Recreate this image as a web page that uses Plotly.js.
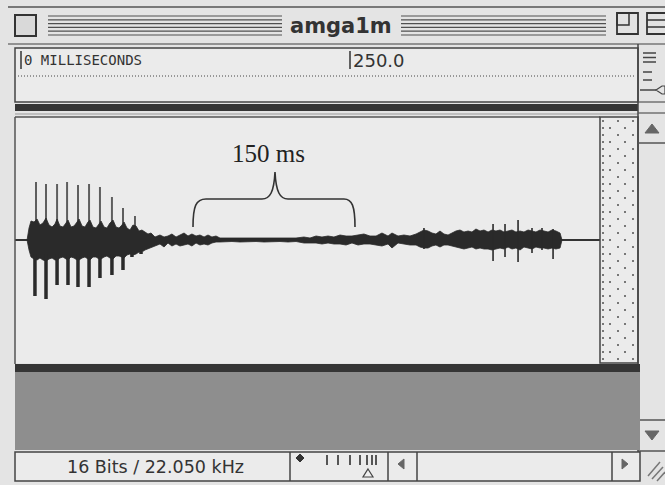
<!DOCTYPE html>
<html><head><meta charset="utf-8">
<script src="https://cdn.plot.ly/plotly-3.0.1.min.js"></script>
<style>html,body{margin:0;padding:0;background:#e4e4e4;}#chart{width:665px;height:485px;}</style>
</head><body><div id="chart"></div>
<script>
// ---------------- DATA (time in ms, amplitude in screen-scale units) ----------------
const fileName = 'amga1m';
const rulerTicks = [0, 250];
const rulerLabels = ['0 MILLISECONDS', '250.0'];
const formatLabel = '16 Bits / 22.050 kHz';
const braceLabel = '150 ms';

const bodyT = [4.6, 6.1, 7.6, 9.9, 12.2, 14.4, 16.7, 19.0, 21.3, 23.6, 25.8, 27.4, 29.6, 31.9, 34.2, 35.7, 38.0, 40.3, 42.6, 44.1, 46.4, 48.6, 50.9, 52.4, 54.7, 57.0, 59.3, 60.8, 63.1, 65.3, 67.6, 69.9, 72.2, 74.5, 76.7, 78.3, 80.5, 82.8, 85.1, 87.4, 89.7, 91.9, 94.2, 96.5, 98.8,
  101.8, 105.6, 108.7, 111.7, 114.7, 117.8, 120.8, 123.9, 126.9, 129.9, 133.0, 136.0, 139.1, 142.1, 145.1, 148.2, 151.2, 155.8, 160.3, 166.4, 172.5, 178.6, 184.7, 190.7, 196.8, 202.9, 209.0, 215.0, 219.6, 224.2, 228.7, 233.3, 237.8, 242.4, 247.0, 251.5, 256.1, 260.6, 265.2, 269.8, 274.3, 278.9, 281.9, 286.5, 291.0, 295.6, 300.2, 303.2, 306.2, 309.3, 312.3, 315.3, 318.4, 321.4, 324.5, 327.5, 330.5, 333.6, 336.6, 339.7, 342.7, 345.7, 348.8, 351.8, 354.9, 357.9, 360.9, 364.0, 367.0, 370.1, 373.1, 376.1, 379.2, 382.2, 385.3, 388.3, 391.3, 394.4, 397.4, 400.5, 403.5, 406.5, 409.6, 411.1];
const bodyUp = [0, 12, 19, 18, 21, 15, 17, 22, 15, 13, 16, 21, 14, 13, 17, 20, 13, 14, 18, 21, 14, 13, 18, 20, 13, 12, 16, 19, 13, 12, 17, 20, 13, 12, 15, 18, 12, 10, 15, 14, 9, 10, 8, 6, 7,
  3, 5, 3, 4, 6, 3, 5, 7, 4, 6, 4, 5, 3, 5, 3, 4, 2, 2, 1.5, 2, 1.5, 2, 1.5, 2, 1.5, 2, 2, 3, 2, 4, 3, 4, 3, 5, 4, 4, 5, 6, 4, 4, 7, 4, 7, 4, 5, 4, 6, 8, 10, 9, 7, 6, 9, 6, 5, 7, 9, 10, 8, 9, 8, 11, 9, 10, 8, 10, 9, 10, 8, 9, 10, 8, 9, 8, 10, 9, 8, 10, 9, 8, 10, 9, 7, 0];
const bodyDown = [0, -10, -17, -19, -20, -18, -20, -21, -19, -18, -20, -20, -18, -17, -19, -20, -17, -18, -20, -20, -18, -17, -19, -20, -17, -17, -19, -19, -17, -16, -18, -19, -16, -16, -17, -18, -15, -14, -15, -14, -12, -12, -10, -8, -7,
  -6, -4, -7, -3, -6, -4, -6, -5, -4, -6, -3, -5, -4, -5, -3, -2, -2, -2, -1.5, -2, -2, -1.5, -2, -2, -1.5, -2, -1.5, -3, -3, -3, -4, -3, -4, -4, -5, -3, -5, -4, -4, -5, -6, -4, -8, -3, -4, -5, -5, -7, -8, -8, -6, -5, -7, -5, -5, -6, -7, -8, -9, -8, -7, -9, -8, -9, -9, -10, -9, -8, -9, -7, -9, -8, -10, -7, -8, -9, -7, -8, -8, -9, -8, -9, -8, 0];

// thin upper spikes of the onset burst
const spikeT = [11.4, 19.0, 27.4, 35.0, 43.3, 51.7, 60.0, 69.1, 77.5, 86.6];
const spikeTop = [58, 56, 56, 58, 55, 56, 53, 43, 32, 24];
// heavy lower lobes of the onset burst
const lobeT = [10.6, 19.0, 27.4, 35.7, 43.3, 51.7, 60.0, 69.1, 77.5, 84.3, 91.2];
const lobeBottom = [-56, -59, -45, -45, -47, -47, -38, -35, -30, -17, -12];
// spikes in the later segment
const tailSpikeT = [306.2, 358.7, 367.8, 377.7, 388.3, 395.9, 404.3];
const tailSpikeTop = [12, 16, 16, 20, 12, 12, 11];
const tailSpikeBottom = [-9, -21, -17, -22, -13, -10, -19];

// ---------------- BUILD ----------------
const W = 665, H = 485;
const PX = x => x / W, PY = y => 1 - y / H;
const shapes = [];
function rect(x0, y0, x1, y1, fill, lc, lw) {
  shapes.push({type: 'rect', xref: 'paper', yref: 'paper', x0: PX(x0), x1: PX(x1), y0: PY(y0), y1: PY(y1),
    fillcolor: fill || 'rgba(0,0,0,0)', line: {color: lc || 'rgba(0,0,0,0)', width: lw || 0}});
}
function seg(x0, y0, x1, y1, c, w, dash) {
  shapes.push({type: 'line', xref: 'paper', yref: 'paper', x0: PX(x0), x1: PX(x1), y0: PY(y0), y1: PY(y1),
    line: {color: c, width: w, dash: dash || 'solid'}});
}
function path(d, fill, c, w) {
  let i = 0;
  const conv = d.replace(/-?\d+(\.\d+)?/g, m => {
    const v = parseFloat(m); const r = (i % 2 === 0) ? PX(v) : PY(v); i++; return r.toFixed(5);
  });
  shapes.push({type: 'path', xref: 'paper', yref: 'paper', path: conv,
    fillcolor: fill || 'rgba(0,0,0,0)', line: {color: c || 'rgba(0,0,0,0)', width: w || 0}});
}

// window chrome
seg(8, 7, 665, 7, '#555', 1.5);
rect(15, 15, 36, 36, '#d9d9d9', '#333', 2);
[16, 19.8, 23.6, 27.4, 31.2, 35].forEach(y => { seg(48, y, 282, y, '#505050', 1.2); seg(401, y, 606, y, '#505050', 1.2); });
rect(617, 13, 638, 34, '#e2e2e2', '#333', 1.8); rect(617, 13, 629, 25, null, '#333', 1.5);
rect(647, 13, 668, 34, '#e2e2e2', '#333', 1.8); seg(647, 20, 665, 20, '#333', 1.5); seg(647, 27, 665, 27, '#333', 1.5);
seg(8, 44, 665, 44, '#777', 1.5);
// ruler
rect(15, 48, 638, 102, '#ebebeb', '#444', 1.5);
seg(18, 76, 636, 76, '#444', 1, '1px,2px');
rect(15, 104, 638, 111, '#353535');
seg(15, 114, 638, 114, '#999', 1);
// panel edges and dotted column
seg(15, 117, 600, 117, '#555', 1.5);
seg(15, 117, 15, 364, '#555', 1.5);
rect(600, 117, 638, 363, '#ebebeb', '#444', 1.5);
[[610, 127], [618, 120], [625, 127], [633, 120], [603, 120], [603, 127]].forEach(p => seg(p[0], p[1], p[0], 361, '#777', 2, '2px,12px'));
// right column
seg(638, 44, 638, 452, '#444', 1.5);
[53, 57.5, 62].forEach(y => seg(643, y, 656, y, '#444', 1.5));
[72, 80].forEach(y => seg(643, y, 652, y, '#444', 1.5));
seg(640, 90, 656, 90, '#444', 1.5);
path('M656 90 L662 86 L665 86 L665 94 L662 94 Z', '#e4e4e4', '#444', 1.2);
seg(638, 102, 665, 102, '#555', 1.2);
seg(638, 113, 665, 113, '#555', 1.2);
path('M652 124 L645 133 L659 133 Z', '#666', '#666', 1);
seg(638, 143, 665, 143, '#555', 1.5);
seg(638, 420, 665, 420, '#555', 1.5);
path('M652 440 L645 431 L659 431 Z', '#666', '#666', 1);
seg(638, 451, 665, 451, '#555', 1.5);
[[648, 476, 660, 462], [652, 479, 663, 467], [657, 481, 665, 472]].forEach(s => seg(s[0], s[1], s[2], s[3], '#777', 1.5));
// lower gray area
rect(15, 364, 640, 372, '#353535');
rect(15, 372, 640, 450, '#8e8e8e');
// status bar
rect(15, 452, 640, 481, '#ebebeb', '#444', 1.5);
[290, 388, 417, 612].forEach(x => seg(x, 452, x, 481, '#444', 1.5));
path('M300 454 L304 458 L300 462 L296 458 Z', '#333', '#333', 1);
[327, 338, 350, 360, 367, 372, 376].forEach(x => seg(x, 455, x, 465, '#555', 2));
path('M368 469 L373 477 L363 477 Z', '#eee', '#444', 1.2);
path('M398 464 L404 459 L404 469 Z', '#666', '#666', 1);
path('M628 464 L622 459 L622 469 Z', '#666', '#666', 1);
// brace over the gap
path('M193 227 C193 206 196 199 206 199 L262 199 C270 199 274 192 275 172 C276 192 280 199 288 199 L344 199 C352 199 355 206 355 227', null, '#333', 1.6);

// ruler markers through the time axis
rulerTicks.forEach(t => shapes.push({type: 'line', xref: 'x', yref: 'paper', x0: t, x1: t, y0: PY(51), y1: PY(69), line: {color: '#333', width: 1.5}}));

const annotations = [
  {text: '<b>' + fileName + '</b>', xref: 'paper', yref: 'paper', x: PX(341), y: PY(26), xanchor: 'center', yanchor: 'middle', showarrow: false,
    font: {family: 'DejaVu Sans', size: 21, color: '#333'}},
  {text: braceLabel, xref: 'paper', yref: 'paper', x: PX(268), y: PY(153), xanchor: 'center', yanchor: 'middle', showarrow: false,
    font: {family: 'Liberation Serif', size: 25, color: '#222'}},
  {text: formatLabel, xref: 'paper', yref: 'paper', x: PX(155), y: PY(467), xanchor: 'center', yanchor: 'middle', showarrow: false,
    font: {family: 'DejaVu Sans', size: 17.5, color: '#333'}}
];
rulerTicks.forEach((t, i) => annotations.push({text: rulerLabels[i], xref: 'x', yref: 'paper', x: t, y: PY(60),
  xanchor: 'left', yanchor: 'middle', xshift: 1, showarrow: false,
  font: i === 0 ? {family: 'DejaVu Sans Mono', size: 14, color: '#333'} : {family: 'DejaVu Sans', size: 18, color: '#333'}}));

// waveform traces
const segX = (ts) => ts.flatMap(t => [t, t, null]);
const segY = (a, b) => a.flatMap((v, i) => [Array.isArray(b) ? b[i] : b, v, null]);
const traces = [
  {type: 'scatter', mode: 'lines', x: segX(spikeT), y: segY(spikeTop, 0), line: {color: '#5e5e5e', width: 2}, hoverinfo: 'skip'},
  {type: 'scatter', mode: 'lines', x: bodyT.concat(bodyT.slice().reverse()), y: bodyUp.concat(bodyDown.slice().reverse()),
    fill: 'toself', fillcolor: '#2a2a2a', line: {color: '#2a2a2a', width: 0.8}, hoverinfo: 'skip'},
  {type: 'scatter', mode: 'lines', x: segX(lobeT), y: segY(lobeBottom, -14), line: {color: '#2a2a2a', width: 3.5}, hoverinfo: 'skip'},
  {type: 'scatter', mode: 'lines', x: segX(tailSpikeT), y: segY(tailSpikeTop, tailSpikeBottom), line: {color: '#2a2a2a', width: 1.6}, hoverinfo: 'skip'}
];

const k = (350 - 21) / 250; // px per ms on the ruler
const layout = {
  width: W, height: H, margin: {l: 0, r: 0, t: 0, b: 0},
  paper_bgcolor: '#e4e4e4', plot_bgcolor: '#ebebeb', showlegend: false, hovermode: false,
  font: {family: 'DejaVu Sans', color: '#333'},
  xaxis: {domain: [PX(15), PX(600)], range: [(15 - 21) / k, (600 - 21) / k], visible: false, zeroline: false, fixedrange: true},
  yaxis: {domain: [PY(363), PY(117)], range: [-123, 123], showgrid: false, showticklabels: false, ticks: '',
    zeroline: true, zerolinecolor: '#333', zerolinewidth: 1.5, showline: false, fixedrange: true},
  shapes: shapes, annotations: annotations
};
Plotly.newPlot('chart', traces, layout, {staticPlot: true, displayModeBar: false});
</script></body></html>
